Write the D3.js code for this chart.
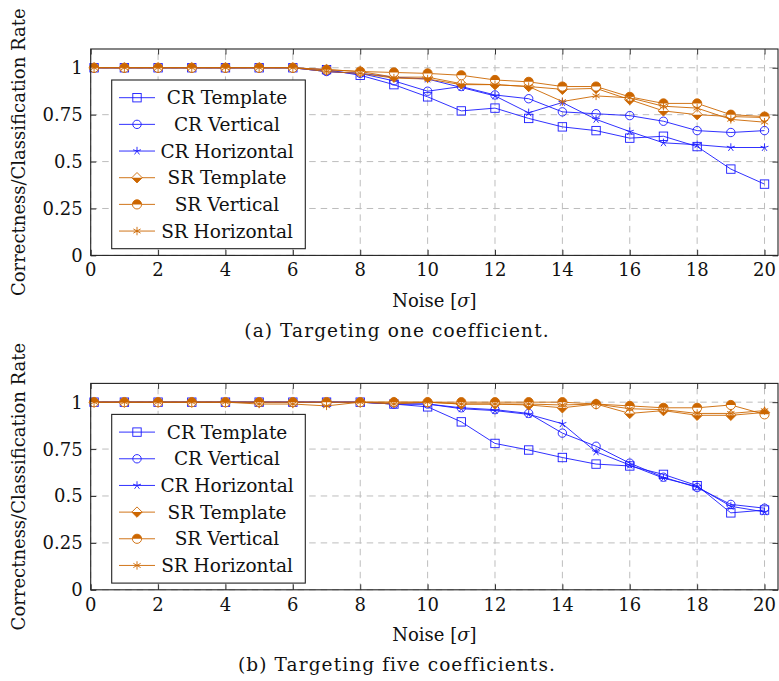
<!DOCTYPE html>
<html>
<head>
<meta charset="utf-8">
<script src="https://cdn.jsdelivr.net/npm/d3@7/dist/d3.min.js"></script>
<style>
  body { margin: 0; background: #fff; }
  svg { display: block; font-family: "DejaVu Serif", serif; }
</style>
</head>
<body>
<div id="chart"></div>
<script>
// noise levels (x values)
var noise = [0.1, 1, 2, 3, 4, 5, 6, 7, 8, 9, 10, 11, 12, 13, 14, 15, 16, 17, 18, 19, 20];

// (a) targeting one coefficient
var crTemplateA   = [1, 1, 1, 1, 1, 1, 1, 0.99, 0.96, 0.91, 0.845, 0.77, 0.785, 0.73, 0.685, 0.665, 0.625, 0.635, 0.58, 0.46, 0.38];
var crVerticalA   = [1, 1, 1, 1, 1, 1, 1, 0.98, 0.97, 0.93, 0.875, 0.9, 0.855, 0.835, 0.765, 0.755, 0.745, 0.715, 0.665, 0.655, 0.665];
var crHorizontalA = [1, 1, 1, 1, 1, 1, 1, 0.98, 0.97, 0.95, 0.94, 0.895, 0.85, 0.76, 0.815, 0.725, 0.66, 0.6, 0.59, 0.575, 0.575];
var srTemplateA   = [1, 1, 1, 1, 1, 1, 1, 0.99, 0.98, 0.95, 0.95, 0.915, 0.91, 0.9, 0.885, 0.89, 0.83, 0.77, 0.75, 0.74, 0.735];
var srVerticalA   = [1, 1, 1, 1, 1, 1, 1, 0.99, 0.98, 0.975, 0.97, 0.96, 0.935, 0.925, 0.9, 0.9, 0.845, 0.81, 0.81, 0.75, 0.74];
var srHorizontalA = [1, 1, 1, 1, 1, 1, 1, 0.98, 0.97, 0.945, 0.94, 0.91, 0.91, 0.9, 0.82, 0.85, 0.84, 0.795, 0.785, 0.725, 0.71];

// (b) targeting five coefficients
var crTemplateB   = [1, 1, 1, 1, 1, 1, 1, 1, 1, 0.99, 0.975, 0.895, 0.78, 0.745, 0.705, 0.67, 0.66, 0.615, 0.555, 0.41, 0.425];
var crVerticalB   = [1, 1, 1, 1, 1, 1, 1, 1, 1, 0.99, 0.99, 0.97, 0.96, 0.94, 0.835, 0.765, 0.675, 0.6, 0.545, 0.455, 0.435];
var crHorizontalB = [1, 1, 1, 1, 1, 1, 1, 1, 1, 0.99, 0.99, 0.965, 0.955, 0.935, 0.885, 0.735, 0.665, 0.595, 0.55, 0.445, 0.415];
var srTemplateB   = [1, 1, 1, 1, 1, 1, 1, 1, 1, 1, 1, 0.99, 0.99, 0.985, 0.97, 0.99, 0.94, 0.955, 0.93, 0.93, 0.945];
var srVerticalB   = [1, 1, 1, 1, 1, 1, 1, 1, 1, 1, 1, 1, 1, 1, 1, 0.99, 0.98, 0.97, 0.97, 0.985, 0.935];
var srHorizontalB = [1, 1, 1, 1, 1, 0.99, 0.99, 0.98, 1, 0.99, 1, 0.99, 0.99, 0.99, 0.985, 0.99, 0.965, 0.96, 0.94, 0.94, 0.955];

var seriesNames = ["CR Template", "CR Vertical", "CR Horizontal", "SR Template", "SR Vertical", "SR Horizontal"];
var seriesMarks = ["square", "circle", "star", "halfdiamond", "halfcircle", "asterisk"];
var xTicks = [0, 2, 4, 6, 8, 10, 12, 14, 16, 18, 20];
var yTicks = [0, 0.25, 0.5, 0.75, 1];
var yTickLabels = ["0", "0.25", "0.5", "0.75", "1"];
var captions = ["(a) Targeting one coefficient.", "(b) Targeting five coefficients."];

var blue = "#1a1aff";
var orange = "#cc6600";

let width = 779;
let height = 681;

var svg = d3.select("#chart")
  .append("svg")
    .attr("width", width)
    .attr("height", height);

var x = d3.scaleLinear().domain([0, 20.4]).range([90.7, 778]);
var y = d3.scaleLinear().domain([0, 1.1]).range([255.4, 49]);

function drawMark(g, type, color) {
  var r = 4.2;
  if (type == "square") {
    g.append("rect")
      .attr("x", -r).attr("y", -r)
      .attr("width", 2 * r).attr("height", 2 * r)
      .attr("fill", "none")
      .attr("stroke", color);
  } else if (type == "circle") {
    g.append("circle")
      .attr("r", r)
      .attr("fill", "none")
      .attr("stroke", color);
  } else if (type == "star") {
    var d = "";
    for (var k = 0; k < 5; k++) {
      var a = (-90 + 72 * k) * Math.PI / 180;
      d += "M0,0L" + (r * Math.cos(a)) + "," + (r * Math.sin(a));
    }
    g.append("path").attr("d", d).attr("stroke", color);
  } else if (type == "asterisk") {
    var d = "";
    for (var k = 0; k < 3; k++) {
      var a = (90 + 60 * k) * Math.PI / 180;
      d += "M" + (-r * Math.cos(a)) + "," + (-r * Math.sin(a)) +
           "L" + (r * Math.cos(a)) + "," + (r * Math.sin(a));
    }
    g.append("path").attr("d", d).attr("stroke", color);
  } else if (type == "halfdiamond") {
    var s = 5.2;
    g.append("path")
      .attr("d", "M0," + (-s) + "L" + s + ",0L0," + s + "L" + (-s) + ",0Z")
      .attr("fill", "#fff");
    g.append("path")
      .attr("d", "M" + (-s) + ",0L" + s + ",0L0," + s + "Z")
      .attr("fill", color);
    g.append("path")
      .attr("d", "M0," + (-s) + "L" + s + ",0L0," + s + "L" + (-s) + ",0Z")
      .attr("fill", "none")
      .attr("stroke", color);
  } else if (type == "halfcircle") {
    var s = 4.6;
    g.append("circle").attr("r", s).attr("fill", "#fff");
    g.append("path")
      .attr("d", "M" + (-s) + ",0A" + s + "," + s + " 0 0 1 " + s + ",0Z")
      .attr("fill", color);
    g.append("circle").attr("r", s).attr("fill", "none").attr("stroke", color);
  }
}

function drawPanel(offset, data, caption) {
  var g = svg.append("g").attr("transform", "translate(0," + offset + ")");

  // grid
  g.append("g")
    .selectAll("line.vgrid")
    .data(xTicks)
    .enter()
    .append("line")
      .attr("x1", function (d) { return x(d); })
      .attr("x2", function (d) { return x(d); })
      .attr("y1", y.range()[0])
      .attr("y2", y.range()[1])
      .attr("stroke", "#bdbdbd")
      .attr("stroke-dasharray", "6.5 5");
  g.append("g")
    .selectAll("line.hgrid")
    .data(yTicks)
    .enter()
    .append("line")
      .attr("x1", x.range()[0])
      .attr("x2", x.range()[1])
      .attr("y1", function (d) { return y(d); })
      .attr("y2", function (d) { return y(d); })
      .attr("stroke", "#bdbdbd")
      .attr("stroke-dasharray", "6.5 5");

  // axis ticks (inside, on all four sides)
  var axB = g.append("g").attr("transform", "translate(0," + y.range()[0] + ")")
    .call(d3.axisBottom(x).tickValues(xTicks).tickSizeInner(-5.5).tickSizeOuter(0).tickFormat(""));
  var axT = g.append("g").attr("transform", "translate(0," + y.range()[1] + ")")
    .call(d3.axisTop(x).tickValues(xTicks).tickSizeInner(-5.5).tickSizeOuter(0).tickFormat(""));
  var axL = g.append("g").attr("transform", "translate(" + x.range()[0] + ",0)")
    .call(d3.axisLeft(y).tickValues(yTicks).tickSizeInner(-5.5).tickSizeOuter(0).tickFormat(""));
  var axR = g.append("g").attr("transform", "translate(" + x.range()[1] + ",0)")
    .call(d3.axisRight(y).tickValues(yTicks).tickSizeInner(-5.5).tickSizeOuter(0).tickFormat(""));
  [axB, axT, axL, axR].forEach(function (a) {
    a.select(".domain").remove();
    a.selectAll("line").attr("stroke", "#333");
  });

  // tick labels
  g.append("g")
    .selectAll("text")
    .data(xTicks)
    .enter()
    .append("text")
      .attr("x", function (d) { return x(d); })
      .attr("y", y.range()[0] + 21)
      .attr("text-anchor", "middle")
      .attr("font-size", "18px")
      .attr("fill", "#111")
      .text(function (d) { return d; });
  g.append("g")
    .selectAll("text")
    .data(yTicks)
    .enter()
    .append("text")
      .attr("x", x.range()[0] - 8)
      .attr("y", function (d) { return y(d) + 6.5; })
      .attr("text-anchor", "end")
      .attr("font-size", "18px")
      .attr("fill", "#111")
      .text(function (d, i) { return yTickLabels[i]; });

  // lines + markers
  var line = d3.line()
    .x(function (d) { return x(d[0]); })
    .y(function (d) { return y(d[1]); });

  data.forEach(function (vals, si) {
    var color = si < 3 ? blue : orange;
    var pts = noise.map(function (n, i) { return [n, vals[i]]; });
    g.append("path")
      .datum(pts)
      .attr("d", line)
      .attr("fill", "none")
      .attr("stroke", color)
      .attr("stroke-width", 0.9);
    g.append("g")
      .attr("stroke-width", 0.9)
      .selectAll("g")
      .data(pts)
      .enter()
      .append("g")
        .attr("transform", function (d) { return "translate(" + x(d[0]) + "," + y(d[1]) + ")"; })
        .each(function () { drawMark(d3.select(this), seriesMarks[si], color); });
  });

  // axis box
  g.append("rect")
    .attr("x", x.range()[0])
    .attr("y", y.range()[1])
    .attr("width", x.range()[1] - x.range()[0])
    .attr("height", y.range()[0] - y.range()[1])
    .attr("fill", "none")
    .attr("stroke", "#222")
    .attr("stroke-width", 1.1);

  // legend
  var leg = g.append("g");
  leg.append("rect")
    .attr("x", 111.7).attr("y", 80)
    .attr("width", 193.6).attr("height", 168.7)
    .attr("fill", "#fff")
    .attr("stroke", "#222")
    .attr("stroke-width", 1.1);
  seriesNames.forEach(function (name, si) {
    var color = si < 3 ? blue : orange;
    var ly = 97.7 + si * 26.67;
    leg.append("line")
      .attr("x1", 119).attr("x2", 155)
      .attr("y1", ly).attr("y2", ly)
      .attr("stroke", color)
      .attr("stroke-width", 0.9);
    var mg = leg.append("g")
      .attr("transform", "translate(137," + ly + ")")
      .attr("stroke-width", 0.9);
    drawMark(mg, seriesMarks[si], color);
    leg.append("text")
      .attr("x", 227)
      .attr("y", ly + 6.5)
      .attr("text-anchor", "middle")
      .attr("font-size", "18.5px")
      .attr("fill", "#111")
      .text(name);
  });

  // axis titles
  var xl = g.append("text")
    .attr("x", (x.range()[0] + x.range()[1]) / 2)
    .attr("y", 307)
    .attr("text-anchor", "middle")
    .attr("font-size", "18px")
    .attr("fill", "#111");
  xl.append("tspan").text("Noise [");
  xl.append("tspan").attr("font-style", "italic").text("σ");
  xl.append("tspan").text("]");

  g.append("text")
    .attr("transform", "translate(25," + ((y.range()[0] + y.range()[1]) / 2) + ") rotate(-90)")
    .attr("text-anchor", "middle")
    .attr("font-size", "18px")
    .attr("fill", "#111")
    .text("Correctness/Classification Rate");

  g.append("text")
    .attr("x", 397)
    .attr("y", 337)
    .attr("text-anchor", "middle")
    .attr("font-size", "18.5px")
    .attr("letter-spacing", "1.1px")
    .attr("fill", "#111")
    .text(caption);
}

drawPanel(0, [crTemplateA, crVerticalA, crHorizontalA, srTemplateA, srVerticalA, srHorizontalA], captions[0]);
drawPanel(334.4, [crTemplateB, crVerticalB, crHorizontalB, srTemplateB, srVerticalB, srHorizontalB], captions[1]);
</script>
</body>
</html>
